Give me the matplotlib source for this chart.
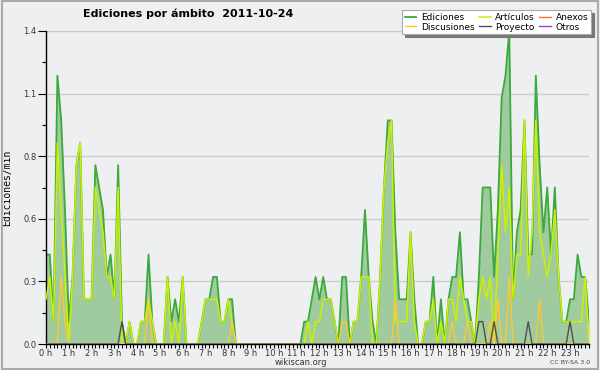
import numpy as np
import matplotlib
matplotlib.use('Agg')
import matplotlib.pyplot as plt
from matplotlib.patches import Rectangle

# Colours
GREEN_LINE = '#3aaa3a'
GREEN_FILL = '#a0cb9e'
ART = '#ccf000'
DISC = '#ffc830'
PROY = '#505050'
ANEX = '#ff7040'
OTROS = '#9a40e0'
BG = '#eeeff1'

# Edits per minute, one value per 10-minute slot (144 slots)
ediciones = [
    0.4, 0.4, 0.1, 1.2, 1.0, 0.6, 0.1, 0.3, 0.8, 0.9, 0.2, 0.2,
    0.2, 0.8, 0.7, 0.6, 0.3, 0.4, 0.2, 0.8, 0.1, 0.0, 0.1, 0.0,
    0.0, 0.1, 0.1, 0.4, 0.1, 0.0, 0.0, 0.0, 0.3, 0.1, 0.2, 0.1,
    0.3, 0.0, 0.0, 0.0, 0.0, 0.1, 0.2, 0.2, 0.3, 0.3, 0.1, 0.1,
    0.2, 0.2, 0.0, 0.0, 0.0, 0.0, 0.0, 0.0, 0.0, 0.0, 0.0, 0.0,
    0.0, 0.0, 0.0, 0.0, 0.0, 0.0, 0.0, 0.0, 0.1, 0.1, 0.2, 0.3,
    0.2, 0.3, 0.2, 0.2, 0.1, 0.0, 0.3, 0.3, 0.0, 0.1, 0.1, 0.3,
    0.6, 0.3, 0.1, 0.0, 0.3, 0.7, 1.0, 1.0, 0.5, 0.2, 0.2, 0.2,
    0.5, 0.2, 0.0, 0.0, 0.1, 0.1, 0.3, 0.0, 0.2, 0.0, 0.2, 0.3,
    0.3, 0.5, 0.2, 0.2, 0.1, 0.0, 0.3, 0.7, 0.7, 0.7, 0.3, 0.6,
    1.1, 1.2, 1.4, 0.2, 0.5, 0.6, 1.0, 0.4, 0.4, 1.2, 0.8, 0.5,
    0.7, 0.4, 0.7, 0.3, 0.1, 0.1, 0.2, 0.2, 0.4, 0.3, 0.3, 0.1,
]
articulos = [
    0.2, 0.3, 0.1, 0.9, 0.6, 0.3, 0.0, 0.3, 0.8, 0.9, 0.2, 0.2,
    0.2, 0.7, 0.6, 0.5, 0.3, 0.3, 0.2, 0.7, 0.0, 0.0, 0.1, 0.0,
    0.0, 0.1, 0.1, 0.2, 0.1, 0.0, 0.0, 0.0, 0.3, 0.0, 0.1, 0.0,
    0.3, 0.0, 0.0, 0.0, 0.0, 0.1, 0.2, 0.2, 0.2, 0.2, 0.1, 0.1,
    0.2, 0.1, 0.0, 0.0, 0.0, 0.0, 0.0, 0.0, 0.0, 0.0, 0.0, 0.0,
    0.0, 0.0, 0.0, 0.0, 0.0, 0.0, 0.0, 0.0, 0.0, 0.1, 0.0, 0.1,
    0.1, 0.2, 0.2, 0.2, 0.1, 0.0, 0.0, 0.0, 0.0, 0.1, 0.1, 0.3,
    0.3, 0.3, 0.0, 0.0, 0.3, 0.7, 0.9, 1.0, 0.1, 0.1, 0.1, 0.1,
    0.5, 0.1, 0.0, 0.0, 0.1, 0.1, 0.2, 0.0, 0.1, 0.0, 0.2, 0.2,
    0.1, 0.3, 0.2, 0.1, 0.1, 0.0, 0.2, 0.3, 0.2, 0.3, 0.0, 0.4,
    0.8, 0.5, 0.7, 0.2, 0.4, 0.4, 1.0, 0.3, 0.5, 1.0, 0.5, 0.4,
    0.3, 0.4, 0.6, 0.3, 0.1, 0.1, 0.1, 0.1, 0.1, 0.1, 0.3, 0.0,
]
# sparse series: {slot: value}
discusiones_pts = {4: 0.3, 5: 0.1, 27: 0.2, 49: 0.1, 78: 0.1, 79: 0.1,
                   92: 0.2, 107: 0.1, 111: 0.1, 117: 0.1, 119: 0.2,
                   122: 0.3, 130: 0.2}
proyecto_pts = {20: 0.1, 114: 0.1, 115: 0.1, 118: 0.1, 127: 0.1, 138: 0.1}
anexos_pts = {}
otros_pts = {}

n = len(ediciones)
def dense(pts):
    arr = np.zeros(n)
    for k, v in pts.items():
        arr[k] = v
    return arr

discusiones = dense(discusiones_pts)
proyecto = dense(proyecto_pts)
anexos = dense(anexos_pts)
otros = dense(otros_pts)

hours = np.arange(n) / 6.0

fig = plt.figure(figsize=(6, 3.7), dpi=100)
fig.patch.set_facecolor(BG)
ax = fig.add_axes([46/600, 26/370, 543/600, 313/370])
ax.set_facecolor(BG)

ax.fill_between(hours, ediciones, color=GREEN_FILL, lw=0, zorder=1)
ax.plot(hours, anexos, color=ANEX, lw=1, label='Anexos', zorder=1.5)
ax.plot(hours, otros, color=OTROS, lw=1, label='Otros', zorder=1.5)
ax.plot(hours, ediciones, color=GREEN_LINE, lw=1.3, label='Ediciones', zorder=2)
ax.plot(hours, articulos, color=ART, lw=1.1, label='Artículos', zorder=3)
ax.plot(hours, discusiones, color=DISC, lw=1, label='Discusiones', zorder=4)
ax.plot(hours, proyecto, color=PROY, lw=1, label='Proyecto', zorder=5)

ax.set_xlim(0, hours[-1])
ax.set_ylim(0, 1.4)

yt = np.linspace(0, 1.4, 6)
ax.set_yticks(yt)
ax.set_yticklabels([f'{v:.1f}' for v in yt])
ax.set_yticks(np.linspace(0, 1.4, 11), minor=True)
ax.yaxis.grid(True, color='#cccccc', lw=1)
ax.set_axisbelow(True)

ax.set_xticks(np.arange(0, 24))
ax.set_xticklabels([f'{h} h' for h in range(24)])
ax.set_xticks(hours, minor=True)

ax.tick_params(axis='y', which='major', length=6, width=0.8, labelsize=6, pad=1, colors='black', labelcolor='#333333')
ax.tick_params(axis='y', which='minor', length=3, width=0.8)
ax.tick_params(axis='x', which='both', length=3, width=0.8, labelsize=6, pad=0.5, labelcolor='#333333')

for s in ['top', 'right']:
    ax.spines[s].set_visible(False)
for s in ['left', 'bottom']:
    ax.spines[s].set_linewidth(1)

ax.set_ylabel('Ediciones/min', family='DejaVu Sans Mono', fontsize=7, labelpad=8)

fig.text(0.313, 0.962, 'Ediciones por ámbito  2011-10-24', ha='center', va='center',
         fontsize=8, fontweight='bold')
fig.text(0.502, 0.021, 'wikiscan.org', ha='center', va='center', fontsize=6, color='#333333')
fig.text(0.983, 0.021, 'CC BY-SA 3.0', ha='right', va='center', fontsize=4.5, color='#444444')

handles, labels = ax.get_legend_handles_labels()
order = ['Ediciones', 'Discusiones', 'Artículos', 'Proyecto', 'Anexos', 'Otros']
hmap = dict(zip(labels, handles))
leg = fig.legend([hmap[k] for k in order], order, loc='upper right',
                 bbox_to_anchor=(0.985, 0.972), ncol=3, fontsize=6.5,
                 frameon=True, fancybox=False, shadow={'color': '#777777', 'alpha': 1},
                 handlelength=1.3, handletextpad=0.5, columnspacing=0.5,
                 labelspacing=0.05, borderpad=0.3, borderaxespad=0)
leg.get_frame().set_edgecolor('#aaaaaa')
leg.get_frame().set_linewidth(0.8)

fig.patches.append(Rectangle((0.003, 0.004), 0.994, 0.992, transform=fig.transFigure,
                             fill=False, edgecolor='#aaaaaa', lw=1.5))

fig.savefig('out.png', dpi=100, facecolor=BG)
plt.close()
